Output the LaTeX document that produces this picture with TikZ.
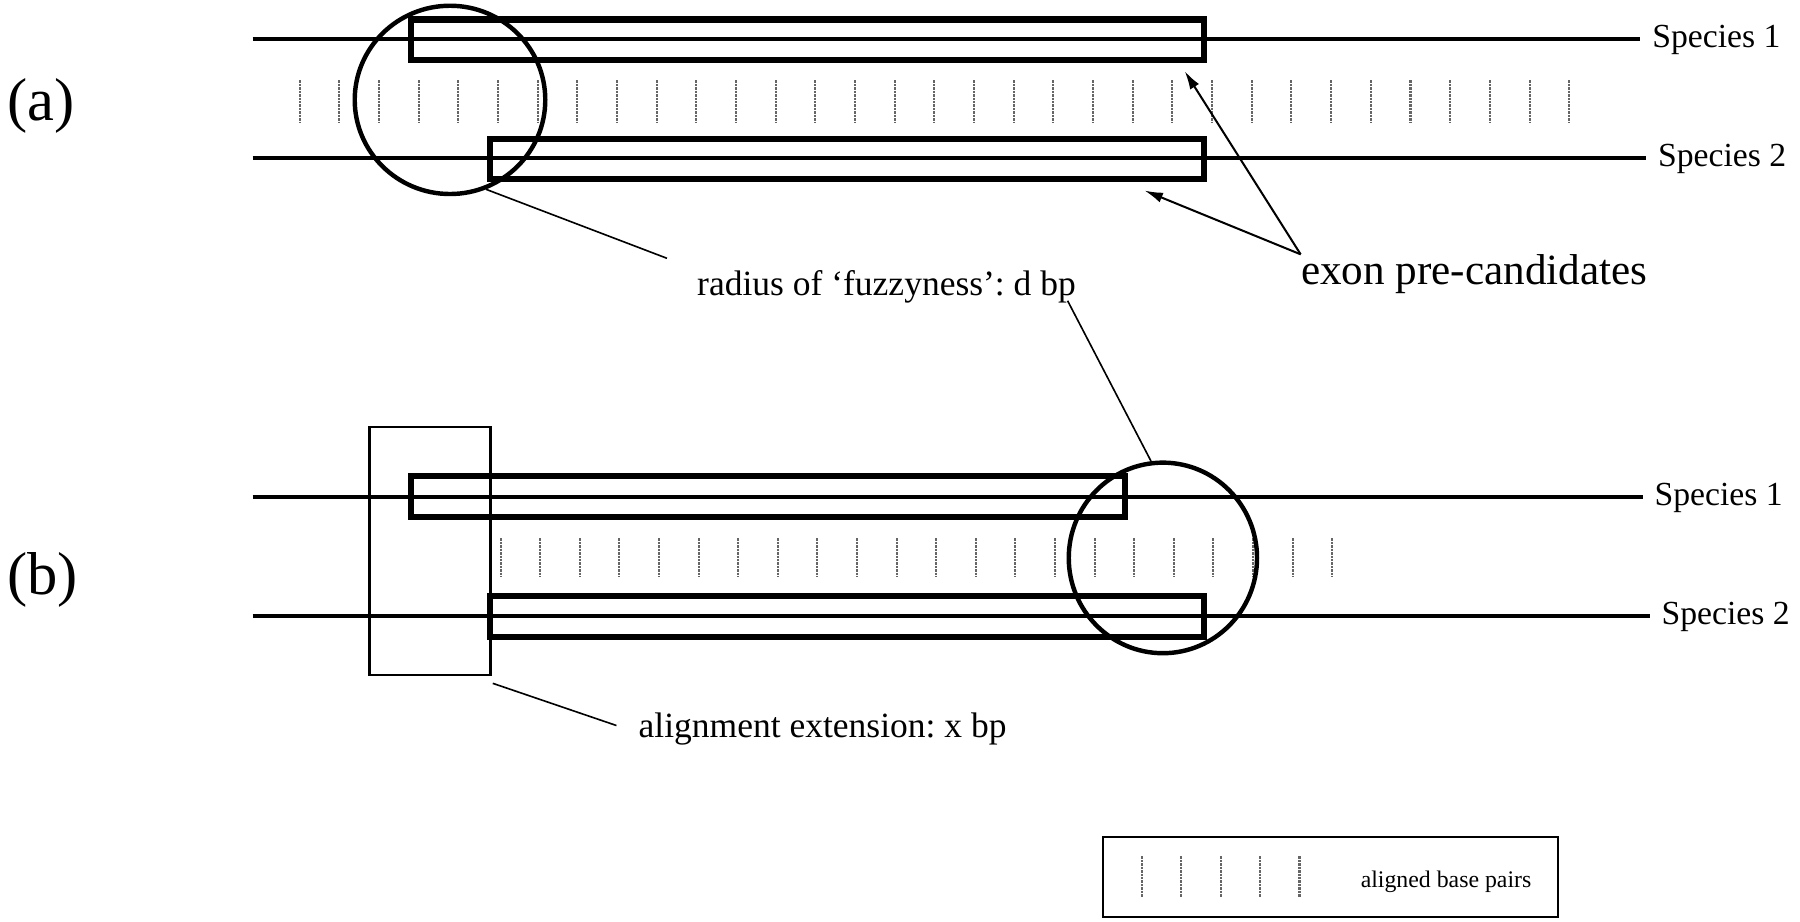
\documentclass[tikz,border=0pt]{standalone}
\usepackage{fontspec}
\setmainfont{Liberation Serif}
\usepackage{tikz}
\usetikzlibrary{arrows.meta, positioning, shapes.geometric}
\frenchspacing

\begin{document}
\begin{tikzpicture}[x=0.2mm, y=-0.2mm,
        strand/.style={line width=2pt},
        exonbox/.style={line width=3pt},
        fuzzy/.style={draw, ellipse, line width=2.2pt, inner sep=0pt},
        bp/.style={draw=black!60, line width=1pt, dash pattern=on 1.2pt off 0.5pt},
        species/.style={font=\fontsize{16.7}{20}\selectfont, inner sep=2mm, anchor=base west},
        lbl/.style={font=\fontsize{17.6}{21}\selectfont, inner sep=0pt, anchor=base west},
        pointer/.style={line width=0.8pt},
        panel/.style={font=\fontsize{30}{36}\selectfont, inner sep=0pt, anchor=base west}]
    \useasboundingbox (0,0) rectangle (1568,803);

    % (a)
    \node[panel] (pa) at (6,105) {(a)};
    \node[species] (s1a) at (1429,41) {Species 1};
    \node[species] (s2a) at (1434,145) {Species 2};
    \coordinate (l1a) at (220,34);
    \coordinate (l2a) at (220,138);
    \draw[strand] (l1a) -- (l1a -| s1a.west);
    \draw[strand] (l2a) -- (l2a -| s2a.west);
    \draw[exonbox] (358,17) rectangle (1049,52);
    \draw[exonbox] (427,121) rectangle (1049,156);
    \foreach \i in {0,...,32}
        \draw[bp] ({261+34.56*\i},70) -- ++(0,36);
    \node[fuzzy, minimum width=33.2mm, minimum height=32.8mm] (fuzzA) at (392,87) {};
    \node[lbl] (radius) at (607,257) {radius of `fuzzyness': d bp};
    \node[lbl, font=\fontsize{21.4}{26}\selectfont] (exon) at (1133,248) {exon pre-candidates};
    \coordinate (radA) at (581,225);
    \coordinate (tip1) at (1032,62);
    \coordinate (tip2) at (997,166);
    \draw[pointer] (fuzzA.-68) -- (radA);
    \draw[-{Latex[length=3.2mm, width=1.8mm]}, line width=1pt] (exon.north west) -- (tip1);
    \draw[-{Latex[length=3.2mm, width=1.8mm]}, line width=1pt] (exon.north west) -- (tip2);

    % (b)
    \node[panel] (pb) at (6,518) {(b)};
    \node[species] (s1b) at (1431,440) {Species 1};
    \node[species] (s2b) at (1437,544) {Species 2};
    \coordinate (l1b) at (220,433);
    \coordinate (l2b) at (220,537);
    \draw[strand] (l1b) -- (l1b -| s1b.west);
    \draw[strand] (l2b) -- (l2b -| s2b.west);
    \draw[exonbox] (358,415) rectangle (980,450);
    \draw[exonbox] (427,519) rectangle (1049,555);
    \foreach \i in {0,...,21}
        \draw[bp] ({436+34.5*\i},469) -- ++(0,34);
    \node[draw, line width=1.4pt, minimum width=21mm, minimum height=43.2mm, inner sep=0pt] (ext) at (374.5,480) {};
    \node[fuzzy, minimum width=32.8mm, minimum height=33.2mm] (fuzzB) at (1013,486) {};
    \node[lbl] (extlbl) at (556,642) {alignment extension: x bp};
    \coordinate (radB) at (930,262);
    \coordinate (extB) at (537,632);
    \draw[pointer] (radB) -- (fuzzB.97);
    \draw[pointer] ([shift={(1,6)}]ext.south east) -- (extB);

    % legend
    \draw[line width=1.1pt] (961,729) rectangle (1357,799);
    \foreach \x in {995,1029,1064,1098,1132}
        \draw[bp] (\x,746) -- ++(0,35);
    \node[lbl, font=\fontsize{11.8}{14}\selectfont] (legend) at (1185,773) {aligned base pairs};
\end{tikzpicture}
\end{document}
